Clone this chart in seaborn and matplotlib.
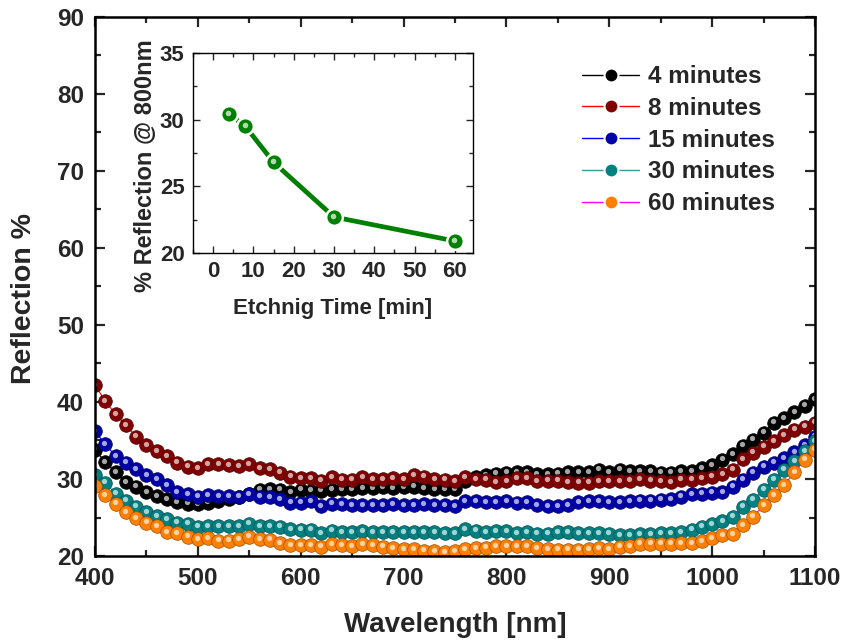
import numpy as np
import pandas as pd
import matplotlib
matplotlib.use("Agg")
import matplotlib.pyplot as plt
import matplotlib.transforms as mtransforms
from matplotlib.lines import Line2D
from matplotlib.ticker import MultipleLocator
import seaborn as sns

# Spectral reflection of the etched samples, sampled every 10 nm
wavelength = np.arange(400, 1101, 10)

refl_4min = [
    33.8, 32.2, 30.9, 29.6, 29.0, 28.3, 27.8, 27.4, 27.0, 26.8,
    26.7, 26.9, 27.1, 27.4, 27.7, 28.1, 28.6, 28.7, 28.6, 28.3,
    28.6, 28.5, 28.5, 28.6, 28.7, 28.7, 28.8, 28.8, 28.9, 28.8,
    28.9, 29.0, 28.8, 28.7, 28.7, 28.7, 29.8, 30.2, 30.5, 30.7,
    30.8, 30.9, 30.9, 30.6, 30.6, 30.7, 30.9, 30.9, 30.9, 31.2,
    30.9, 31.2, 31.0, 31.0, 31.0, 30.8, 30.8, 31.0, 31.0, 31.4,
    31.8, 32.5, 33.2, 34.3, 35.1, 36.0, 37.3, 37.9, 38.7, 39.5,
    40.4,
]
refl_8min = [
    42.2, 40.1, 38.4, 37.0, 35.5, 34.4, 33.6, 33.0, 32.1, 31.6,
    31.4, 31.9, 31.9, 31.8, 31.7, 31.9, 31.4, 31.3, 30.8, 30.3,
    30.1, 30.1, 29.8, 30.2, 29.9, 29.9, 30.2, 30.0, 30.0, 30.1,
    30.0, 30.5, 30.3, 30.0, 29.9, 29.7, 30.2, 30.0, 29.9, 29.6,
    29.7, 30.1, 30.1, 29.7, 29.8, 29.8, 29.6, 29.5, 29.5, 29.7,
    29.7, 29.7, 29.8, 30.0, 29.8, 29.7, 29.6, 29.9, 29.9, 30.1,
    30.3, 30.6, 31.2, 32.6, 33.4, 34.2, 34.9, 35.7, 36.4, 36.8,
    37.3,
]
refl_15min = [
    36.2, 34.5, 33.0, 32.1, 31.3, 30.5, 30.0, 29.2, 28.3, 28.0,
    27.7, 27.9, 27.8, 27.8, 27.7, 28.0, 27.7, 27.6, 27.4, 26.9,
    26.9, 27.1, 26.5, 26.8, 26.7, 26.6, 26.6, 26.6, 26.6, 26.7,
    26.6, 26.6, 26.7, 26.6, 26.6, 26.5, 27.1, 27.1, 27.0, 27.0,
    27.1, 26.9, 27.0, 26.6, 26.5, 26.5, 26.6, 27.0, 27.1, 27.1,
    27.0, 27.0, 27.1, 27.2, 27.2, 27.3, 27.4, 27.7, 28.0, 28.1,
    28.2, 28.3, 29.0, 29.9, 30.8, 31.6, 32.1, 32.7, 33.5, 34.4,
    35.5,
]
refl_30min = [
    30.5, 29.5, 28.1, 27.2, 26.4, 25.7, 25.2, 24.8, 24.3, 24.2,
    23.8, 23.9, 23.9, 23.9, 23.9, 24.2, 23.9, 23.9, 23.8, 23.5,
    23.4, 23.4, 23.0, 23.3, 23.1, 23.1, 23.2, 23.1, 23.1, 23.1,
    23.1, 23.1, 23.1, 23.1, 23.0, 23.0, 23.5, 23.3, 23.1, 23.2,
    23.2, 23.0, 23.1, 22.9, 22.9, 23.1, 23.1, 23.0, 23.0, 23.0,
    22.9, 22.7, 22.7, 22.8, 22.8, 23.0, 23.0, 23.1, 23.4, 23.8,
    24.1, 24.5, 25.1, 26.4, 27.3, 28.6, 29.9, 31.2, 32.3, 33.6,
    34.9,
]
refl_60min = [
    29.1, 27.9, 26.8, 25.7, 24.9, 24.3, 23.9, 23.1, 23.0, 22.5,
    22.2, 22.3, 22.0, 22.0, 22.2, 22.5, 22.2, 22.1, 21.7, 21.4,
    21.4, 21.4, 21.2, 21.5, 21.4, 21.3, 21.5, 21.4, 21.2, 21.0,
    20.9, 20.9, 20.7, 20.6, 20.5, 20.6, 20.9, 21.0, 21.1, 21.3,
    21.3, 21.3, 21.3, 21.0, 20.9, 20.8, 20.8, 20.8, 20.9, 21.0,
    20.9, 21.2, 21.3, 21.6, 21.6, 21.6, 21.6, 21.7, 21.7, 21.9,
    22.3, 22.7, 22.8, 24.0, 25.1, 26.6, 27.9, 29.2, 30.9, 32.5,
    33.8,
]

series_labels = ["4 minutes", "8 minutes", "15 minutes", "30 minutes", "60 minutes"]
series_values = [refl_4min, refl_8min, refl_15min, refl_30min, refl_60min]
marker_colors = ["#000000", "#800000", "#0000A8", "#008080", "#FF8000"]
line_colors = ["#000000", "#FF0000", "#0000FF", "#339999", "#FF00FF"]

# Reflection at 800 nm versus etching time (inset)
etch_time = [4, 8, 15, 30, 60]
refl_800nm = [30.4, 29.5, 26.8, 22.7, 20.9]
inset_color = "#008000"

sns.set_theme(style="ticks")
plt.rcParams["font.family"] = ["Liberation Sans", "DejaVu Sans"]
plt.rcParams["font.weight"] = "bold"
plt.rcParams["axes.labelweight"] = "bold"

fig = plt.figure(figsize=(8.44, 6.44), dpi=100)
W, H = 844, 644
ax = fig.add_axes([95 / W, 1 - 556 / H, 720 / W, 539 / H])

# small offset used for the specular highlight on each sphere marker
hl_shift = mtransforms.ScaledTranslation(-0.8 / 100, 1.4 / 100, fig.dpi_scale_trans)


def darker(hex_color, f=0.6):
    r, g, b = matplotlib.colors.to_rgb(hex_color)
    return (r * f, g * f, b * f)


for label, vals, mc, lc in zip(series_labels, series_values, marker_colors, line_colors):
    df = pd.DataFrame({"wavelength": wavelength, "reflection": vals})
    sns.lineplot(
        data=df, x="wavelength", y="reflection", ax=ax, errorbar=None,
        color=lc, lw=0.8, marker="o", markersize=9.8,
        markerfacecolor=mc, markeredgecolor=darker(mc), markeredgewidth=0.5,
        legend=False,
    )
    ax.plot(df["wavelength"], df["reflection"], ls="none", marker="o", ms=3.8,
            mfc="white", mec="none", alpha=0.65, transform=ax.transData + hl_shift)

ax.set_xlim(400, 1100)
ax.set_ylim(20, 90)
ax.xaxis.set_major_locator(MultipleLocator(100))
ax.xaxis.set_minor_locator(MultipleLocator(50))
ax.yaxis.set_major_locator(MultipleLocator(10))
ax.yaxis.set_minor_locator(MultipleLocator(5))
ax.tick_params(which="both", direction="in", top=True, right=True, width=1.6,
               labelsize=17.5, pad=8)
ax.tick_params(which="major", length=7)
ax.tick_params(which="minor", length=4)
for lab in ax.get_xticklabels() + ax.get_yticklabels():
    lab.set_fontweight("bold")
for sp in ax.spines.values():
    sp.set_linewidth(1.8)
    sp.set_color("black")
ax.set_xlabel("Wavelength [nm]", fontsize=20, fontweight="bold", labelpad=16)
ax.set_ylabel("Reflection %", fontsize=20.5, fontweight="bold")
ax.yaxis.set_label_coords(-(95 - 37) / 720, 0.477)

handles = [
    Line2D([0], [0], color=lc, lw=1.0, marker="o", ms=10, mfc=mc,
           mec="white", mew=1.5)
    for mc, lc in zip(marker_colors, line_colors)
]
leg = fig.legend(handles, series_labels, loc="upper left",
                 bbox_to_anchor=(570 / W, 1 - 53 / H), frameon=False,
                 prop={"size": 17.5, "weight": "bold"}, handlelength=2.35,
                 handletextpad=0.35, labelspacing=0.36, borderpad=0, numpoints=1)

# inset: reflection at 800 nm against etching time
axin = fig.add_axes([193 / W, 1 - 253 / H, 280 / W, 200 / H])
df_in = pd.DataFrame({"time": etch_time, "refl": refl_800nm})
sns.lineplot(data=df_in, x="time", y="refl", ax=axin, errorbar=None,
             color=inset_color, lw=3.4, marker="o", markersize=12,
             markerfacecolor=inset_color, markeredgecolor="white",
             markeredgewidth=1.8, legend=False)
axin.plot(df_in["time"], df_in["refl"], ls="none", marker="o", ms=4,
          mfc="white", mec="none", alpha=0.7, transform=axin.transData + hl_shift)
axin.set_xlim(-5, 64.5)
axin.set_ylim(20, 35)
axin.xaxis.set_major_locator(MultipleLocator(10))
axin.xaxis.set_minor_locator(MultipleLocator(5))
axin.yaxis.set_major_locator(MultipleLocator(5))
axin.yaxis.set_minor_locator(MultipleLocator(2.5))
axin.tick_params(which="both", direction="in", top=True, right=True, width=1.0,
                 labelsize=16, pad=6)
axin.tick_params(which="major", length=5)
axin.tick_params(which="minor", length=3)
for lab in axin.get_xticklabels() + axin.get_yticklabels():
    lab.set_fontweight("bold")
for sp in axin.spines.values():
    sp.set_linewidth(1.0)
    sp.set_color("black")
axin.set_xlabel("Etchnig Time [min]", fontsize=16, fontweight="bold", labelpad=11)
axin.set_ylabel("% Reflection @ 800nm", fontsize=17, fontweight="bold")
axin.yaxis.set_label_coords(-(193 - 157) / 280, 0.435)

fig.savefig("out.png", dpi=100)
